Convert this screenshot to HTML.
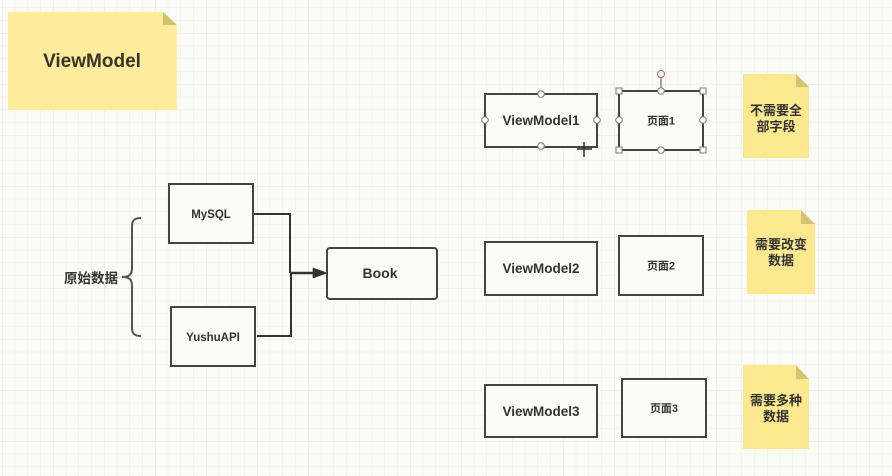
<!DOCTYPE html>
<html><head><meta charset="utf-8">
<style>
html,body{margin:0;padding:0;background:#fbfbf8}
svg{display:block;filter:blur(.3px)}
text{font-family:"Liberation Sans","Noto Sans CJK SC",sans-serif;font-weight:700;fill:#333;text-anchor:middle}
</style></head>
<body>
<svg width="892" height="476" viewBox="0 0 892 476" xmlns="http://www.w3.org/2000/svg">
<defs>
<pattern id="m" x="2" y="-18" width="12.75" height="12.75" patternUnits="userSpaceOnUse"><path d="M0 0V12.75M0 0H12.75" stroke="#eeeeea" stroke-width="1" fill="none"/></pattern>
<pattern id="M" x="2" y="33" width="51" height="51" patternUnits="userSpaceOnUse"><path d="M0 0V51M0 0H51" stroke="#e6e6e2" stroke-width="1" fill="none"/></pattern>
</defs>
<rect width="892" height="476" fill="#fbfbf8"/>
<rect width="892" height="476" fill="url(#m)"/>
<rect width="892" height="476" fill="url(#M)"/>

<!-- notes -->
<path d="M8 12H163L177 25V110H8Z" fill="#fdec9b"/>
<path d="M163 12L177 25H163Z" fill="#cfc26e"/>
<text x="92" y="67" font-size="19" style="fill:#3a3428">ViewModel</text>

<path d="M743 74H796L809 87V158H743Z" fill="#fbe88f"/>
<path d="M796 74L809 87H796Z" fill="#d3c673"/>
<text x="776" y="115" font-size="13">不需要全</text>
<text x="776" y="131" font-size="13">部字段</text>

<path d="M747 210H801L815 224V294H747Z" fill="#fbe88f"/>
<path d="M801 210L815 224H801Z" fill="#d3c673"/>
<text x="781" y="249" font-size="13">需要改变</text>
<text x="781" y="265" font-size="13">数据</text>

<path d="M743 365H796L809 379V449H743Z" fill="#fbe88f"/>
<path d="M796 365L809 379H796Z" fill="#d3c673"/>
<text x="776" y="405" font-size="13">需要多种</text>
<text x="776" y="421" font-size="13">数据</text>

<!-- left -->
<g fill="#fbfbf7" stroke="#444" stroke-width="2">
<rect x="169" y="184" width="84" height="59"/>
<rect x="171" y="307" width="84" height="59"/>
<rect x="327" y="248" width="110" height="51" rx="3"/>
<rect x="485" y="94" width="112" height="53"/>
<rect x="619" y="91" width="84" height="59"/>
<rect x="485" y="242" width="112" height="53"/>
<rect x="619" y="236" width="84" height="59"/>
<rect x="485" y="385" width="112" height="52"/>
<rect x="622" y="379" width="84" height="58"/>
</g>
<g fill="none" stroke="#333" stroke-width="2">
<path d="M254 214H290V273"/>
<path d="M257 336H291V273"/>
<path d="M290 273H316" stroke-width="2.6"/>
</g>
<path d="M313 268L327 273L313 278Z" fill="#333" stroke="#333" stroke-width=".6"/>
<path d="M141 218C135 218 132 220 132 226V268C132 274 130 277 122 277C130 277 132 280 132 286V328C132 334 135 336 141 336" fill="none" stroke="#555" stroke-width="2"/>

<text x="91" y="283" font-size="13.5">原始数据</text>
<text x="211" y="218" font-size="11.5">MySQL</text>
<text x="213" y="341" font-size="11.5">YushuAPI</text>
<text x="380" y="278" font-size="14">Book</text>
<text x="541" y="125" font-size="13.5">ViewModel1</text>
<text x="661" y="124.5" font-size="11">页面1</text>
<text x="541" y="273" font-size="13.5">ViewModel2</text>
<text x="661" y="269.5" font-size="11">页面2</text>
<text x="541" y="416" font-size="13.5">ViewModel3</text>
<text x="664" y="412" font-size="11">页面3</text>

<!-- selection handles -->
<path d="M661 76V91" stroke="#666" stroke-width="1.2"/>
<g fill="#fbfbf8" stroke="#777" stroke-width="1">
<circle cx="661" cy="74" r="3.5" stroke="#a06a6a"/>
<circle cx="541" cy="94" r="3.3"/><circle cx="541" cy="146" r="3.3"/>
<circle cx="485" cy="120" r="3.3"/><circle cx="597" cy="120" r="3.3"/>
<circle cx="661" cy="91" r="3.3"/><circle cx="661" cy="150" r="3.3"/>
<circle cx="619" cy="120" r="3.3"/><circle cx="703" cy="120" r="3.3"/>
<rect x="616" y="88" width="6" height="6"/><rect x="700" y="88" width="6" height="6"/>
<rect x="616" y="147" width="6" height="6"/><rect x="700" y="147" width="6" height="6"/>
</g>
<path d="M584 142V157M577 149H592" stroke="#222" stroke-width="1.4"/>
</svg>
</body></html>
